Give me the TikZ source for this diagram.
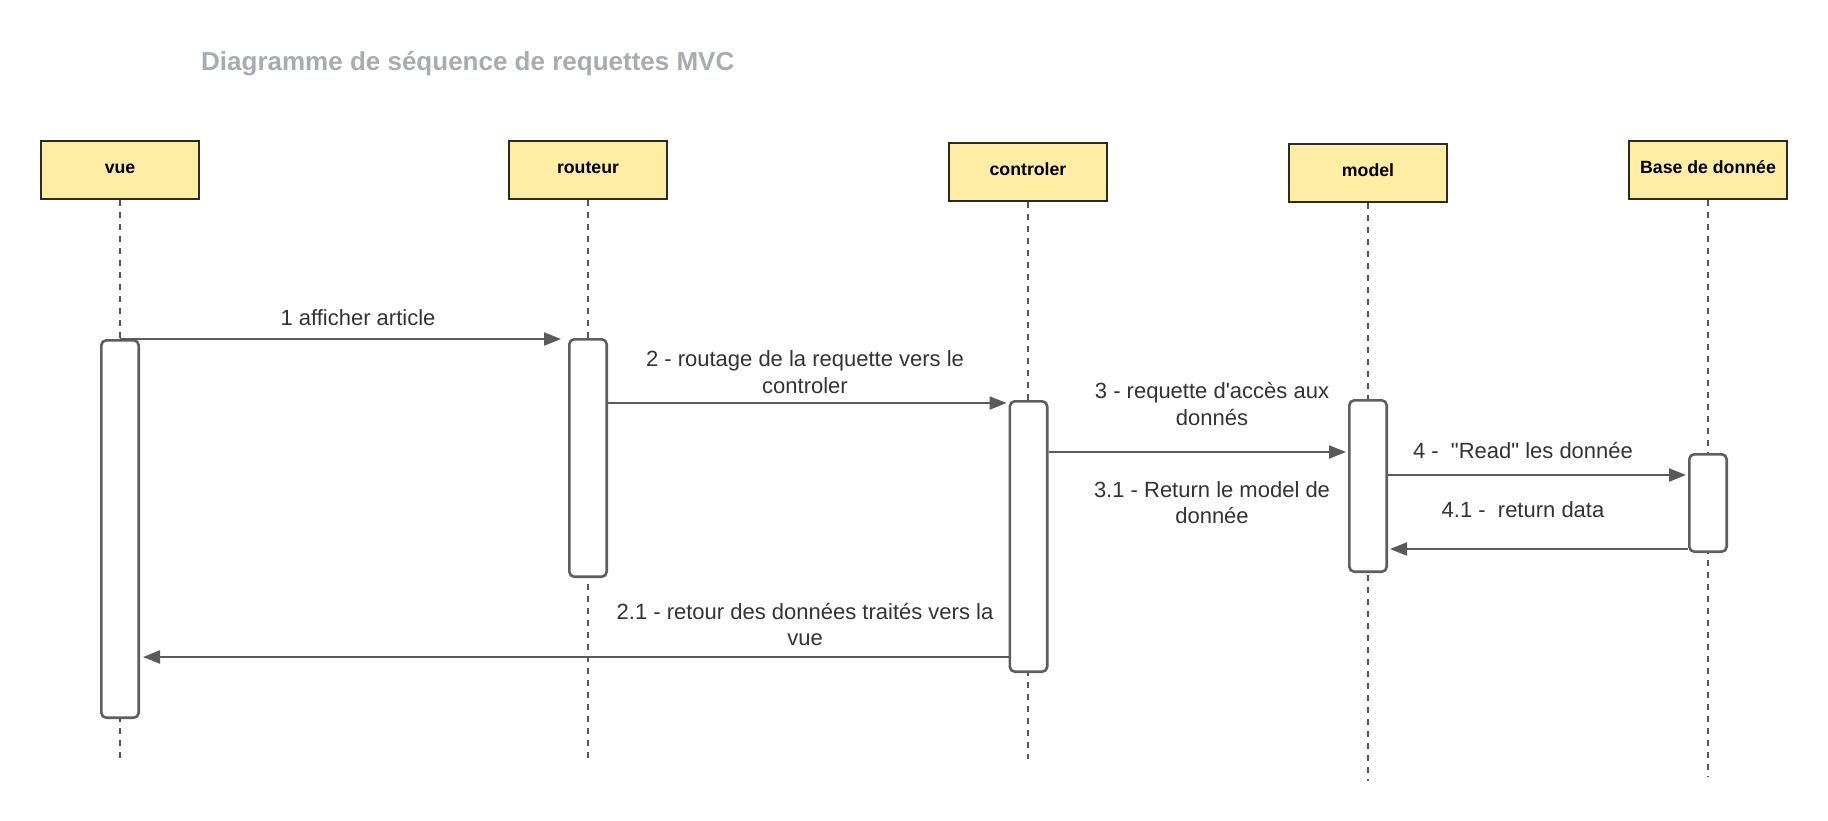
\documentclass[tikz,border=0pt]{standalone}
\usepackage{fontspec}
\setmainfont{Liberation Sans}[Ligatures=TeXOff]
\usetikzlibrary{arrows.meta}
\definecolor{boxfill}{HTML}{FFEDA6}
\definecolor{boxline}{HTML}{2E2A1F}
\definecolor{actline}{HTML}{5E5E5E}
\definecolor{msgline}{HTML}{5A5A5A}
\definecolor{lifec}{HTML}{555555}
\definecolor{txt}{HTML}{333333}
\definecolor{titlec}{HTML}{A7ABB2}
\begin{document}
\begin{tikzpicture}[x=1pt,y=-1pt,
  head/.style={draw=boxline, fill=boxfill, line width=2.4pt, minimum width=157.6pt, minimum height=57.6pt, inner sep=0pt, font=\fontsize{17.7}{20}\selectfont\bfseries, text height=12pt, text depth=5pt},
  act/.style={draw=actline, fill=white, line width=2.6pt, rounded corners=5pt, minimum width=37.4pt, inner sep=0pt},
  life/.style={draw=lifec, line width=1.3pt, dash pattern=on 6pt off 6pt},
  msg/.style={draw=msgline, line width=2.2pt, -{Triangle[length=17pt,width=13pt]}, shorten >=2pt},
  lbl/.style={text=txt, font=\fontsize{22}{26.5}\selectfont, align=center, inner sep=0pt},
]
\fill[white] (0,0) rectangle (1828,820);
\useasboundingbox (0,0) rectangle (1828,820);

% title
\node[anchor=base west, inner sep=0pt, text=titlec, font=\fontsize{26}{30}\selectfont\bfseries] (title) at (201,70) {Diagramme de séquence de requettes MVC};

% heads
\node[head] (vue) at (120,170) {vue};
\node[head] (rout) at (588,170) {routeur};
\node[head] (ctrl) at (1028,172) {controler};
\node[head] (mod) at (1368,173) {model};
\node[head] (base) at (1708,170) {Base de donnée};

% lifeline ends
\coordinate (vueend) at (120,759);
\coordinate (routend) at (588,759);
\coordinate (ctrlend) at (1028,759);
\coordinate (modend) at (1368,781);
\coordinate (baseend) at (1708,777);

\draw[life] (vue.south) -- (vueend);
\draw[life] (rout.south) -- (routend);
\draw[life] (ctrl.south) -- (ctrlend);
\draw[life] (mod.south) -- (modend);
\draw[life] (base.south) -- (baseend);

% activations
\node[act, minimum height=377.4pt] (vueact) at (120,529) {};
\node[act, minimum height=237.4pt] (routact) at (588,458) {};
\node[act, minimum height=270.4pt] (ctrlact) at (1028.5,536.5) {};
\node[act, minimum height=171.4pt] (modact) at (1368,486) {};
\node[act, minimum height=97.4pt] (baseact) at (1708,503) {};

% message levels
\coordinate (m1) at (0,339);
\coordinate (m2) at (0,403);
\coordinate (m3) at (0,452);
\coordinate (m4) at (0,475);
\coordinate (m41) at (0,549);
\coordinate (m21) at (0,657);

\draw[msg, shorten >=7pt] (vueact.north |- m1) -- (routact.west |- m1);
\draw[msg] (routact.east |- m2) -- (ctrlact.west |- m2);
\draw[msg] (ctrlact.east |- m3) -- (modact.west |- m3);
\draw[msg] (modact.east |- m4) -- (baseact.west |- m4);
\draw[msg] (baseact.west |- m41) -- (modact.east |- m41);
\draw[msg, shorten >=3pt] (ctrlact.west |- m21) -- (vueact.east |- m21);

% labels
\node[lbl, anchor=base] (l1) at (358,325) {1 afficher article};
\node[lbl] (l2) at (805,372) {2 - routage de la requette vers le\\controler};
\node[lbl] (l3) at (1212,404) {3 - requette d'accès aux\\donnés};
\node[lbl] (l31) at (1212,502.5) {3.1 - Return le model de\\donnée};
\node[lbl, anchor=base] (l4) at (1523,458) {4 -~\ "Read" les donnée};
\node[lbl, anchor=base] (l41) at (1523,517) {4.1 -~\ return data};
\node[lbl] (l21) at (805,624.5) {2.1 - retour des données traités vers la\\vue};
\end{tikzpicture}
\end{document}
